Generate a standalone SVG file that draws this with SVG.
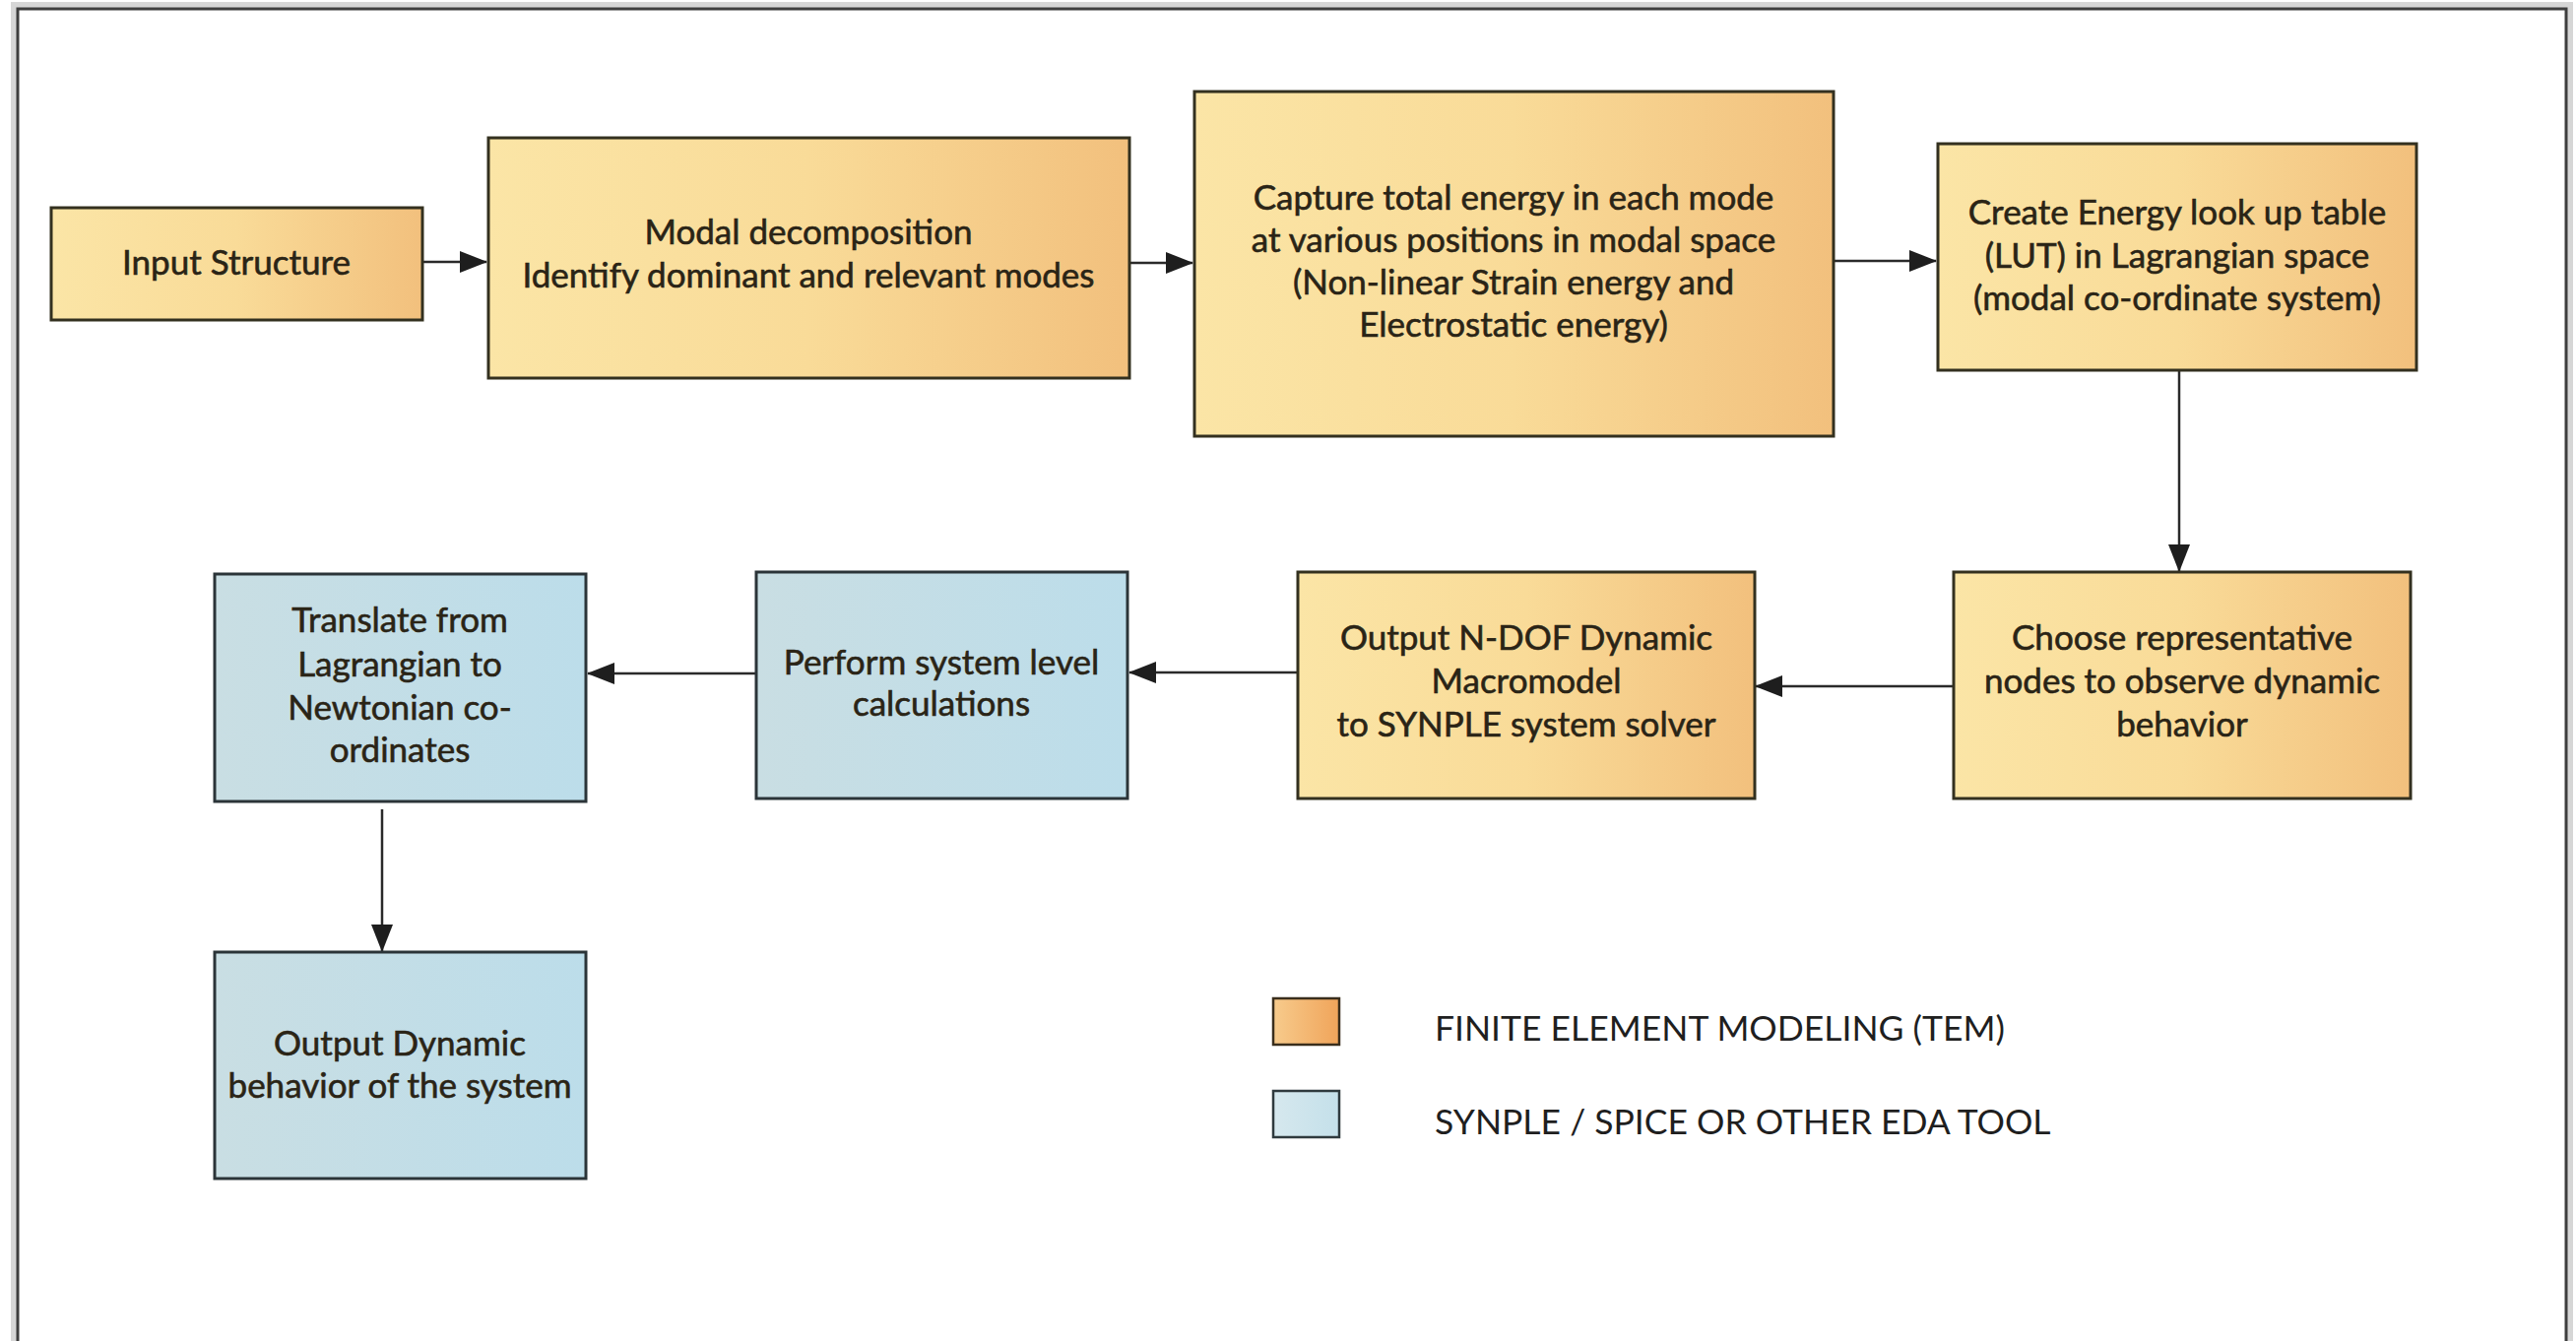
<svg xmlns="http://www.w3.org/2000/svg" width="2616" height="1362" viewBox="0 0 2616 1362">
<defs>
<linearGradient id="gOr" x1="0" y1="0" x2="1" y2="0">
<stop offset="0" stop-color="#FBE5A6"/>
<stop offset="0.5" stop-color="#F9DB98"/>
<stop offset="1" stop-color="#F2C07D"/>
</linearGradient>
<linearGradient id="gBl" x1="0" y1="0" x2="1" y2="0">
<stop offset="0" stop-color="#C9DEE3"/>
<stop offset="1" stop-color="#BCDDEA"/>
</linearGradient>
<linearGradient id="gOrL" x1="0" y1="0" x2="1" y2="0">
<stop offset="0" stop-color="#F7CB8C"/>
<stop offset="1" stop-color="#F0A45A"/>
</linearGradient>
<linearGradient id="gBlL" x1="0" y1="0" x2="1" y2="0">
<stop offset="0" stop-color="#D6E8EE"/>
<stop offset="1" stop-color="#C4E0EA"/>
</linearGradient>
<marker id="arr" markerUnits="userSpaceOnUse" markerWidth="28" markerHeight="22" viewBox="0 0 28 22" refX="27" refY="11" orient="auto">
<path d="M0,0 L28,11 L0,22 z" fill="#1e1e1e"/>
</marker>
</defs>
<style>
.or{fill:url(#gOr);stroke:#33301f;stroke-width:3}
.bl{fill:url(#gBl);stroke:#2b3438;stroke-width:3}
.t{font-family:Lato,"Open Sans","Liberation Sans",sans-serif;font-size:35px;fill:#2a2416;stroke:#2a2416;stroke-width:0.6;text-anchor:middle}
.lg{font-family:Lato,"Open Sans","Liberation Sans",sans-serif;font-size:35.5px;fill:#1f1f1f}
.c{stroke:#2a2a2a;stroke-width:2.5;fill:none;marker-end:url(#arr)}
</style>
<rect x="0" y="0" width="2616" height="1362" fill="#ffffff"/>
<rect x="14" y="5" width="2596" height="1400" fill="none" stroke="#d6d6d6" stroke-width="6"/>
<rect x="18" y="9" width="2588" height="1400" fill="none" stroke="#3e3e3e" stroke-width="3"/>

<g id="connectors">
<line class="c" x1="429" y1="266" x2="494" y2="266"/>
<line class="c" x1="1147" y1="267" x2="1211" y2="267"/>
<line class="c" x1="1862" y1="265" x2="1966" y2="265"/>
<line class="c" x1="2213" y1="376" x2="2213" y2="580"/>
<line class="c" x1="1984" y1="697" x2="1783" y2="697"/>
<line class="c" x1="1318" y1="683" x2="1147" y2="683"/>
<line class="c" x1="768" y1="684" x2="597" y2="684"/>
<line class="c" x1="388" y1="822" x2="388" y2="966"/>
</g>

<g id="n-input">
<rect class="or" x="52" y="211" width="377" height="114"/>
<text class="t" x="240" y="279">Input Structure</text>
</g>
<g id="n-modal">
<rect class="or" x="496" y="140" width="651" height="244"/>
<text class="t" x="821" y="248">Modal decomposition</text>
<text class="t" x="821" y="292">Identify dominant and relevant modes</text>
</g>
<g id="n-capture">
<rect class="or" x="1213" y="93" width="649" height="350"/>
<text class="t" x="1537" y="213">Capture total energy in each mode</text>
<text class="t" x="1537" y="256">at various positions in modal space</text>
<text class="t" x="1537" y="299">(Non-linear Strain energy and</text>
<text class="t" x="1537" y="342">Electrostatic energy)</text>
</g>
<g id="n-lut">
<rect class="or" x="1968" y="146" width="486" height="230"/>
<text class="t" x="2211" y="228">Create Energy look up table</text>
<text class="t" x="2211" y="272">(LUT) in Lagrangian space</text>
<text class="t" x="2211" y="315">(modal co-ordinate system)</text>
</g>
<g id="n-choose">
<rect class="or" x="1984" y="581" width="464" height="230"/>
<text class="t" x="2216" y="660">Choose representative</text>
<text class="t" x="2216" y="704">nodes to observe dynamic</text>
<text class="t" x="2216" y="748">behavior</text>
</g>
<g id="n-output-ndof">
<rect class="or" x="1318" y="581" width="464" height="230"/>
<text class="t" x="1550" y="660">Output N-DOF Dynamic</text>
<text class="t" x="1550" y="704">Macromodel</text>
<text class="t" x="1550" y="748">to SYNPLE system solver</text>
</g>
<g id="n-perform">
<rect class="bl" x="768" y="581" width="377" height="230"/>
<text class="t" x="956" y="685">Perform system level</text>
<text class="t" x="956" y="727">calculations</text>
</g>
<g id="n-translate">
<rect class="bl" x="218" y="583" width="377" height="231"/>
<text class="t" x="406" y="642">Translate from</text>
<text class="t" x="406" y="687">Lagrangian to</text>
<text class="t" x="406" y="731">Newtonian co-</text>
<text class="t" x="406" y="774">ordinates</text>
</g>
<g id="n-output-dyn">
<rect class="bl" x="218" y="967" width="377" height="230"/>
<text class="t" x="406" y="1072">Output Dynamic</text>
<text class="t" x="406" y="1115">behavior of the system</text>
</g>

<g id="legend">
<rect x="1293" y="1014" width="67" height="47" fill="url(#gOrL)" stroke="#3a2e1c" stroke-width="2.5"/>
<text class="lg" x="1457" y="1057">FINITE ELEMENT MODELING (TEM)</text>
<rect x="1293" y="1108" width="67" height="47" fill="url(#gBlL)" stroke="#2f3a3e" stroke-width="2.5"/>
<text class="lg" x="1457" y="1152">SYNPLE / SPICE OR OTHER EDA TOOL</text>
</g>
</svg>
